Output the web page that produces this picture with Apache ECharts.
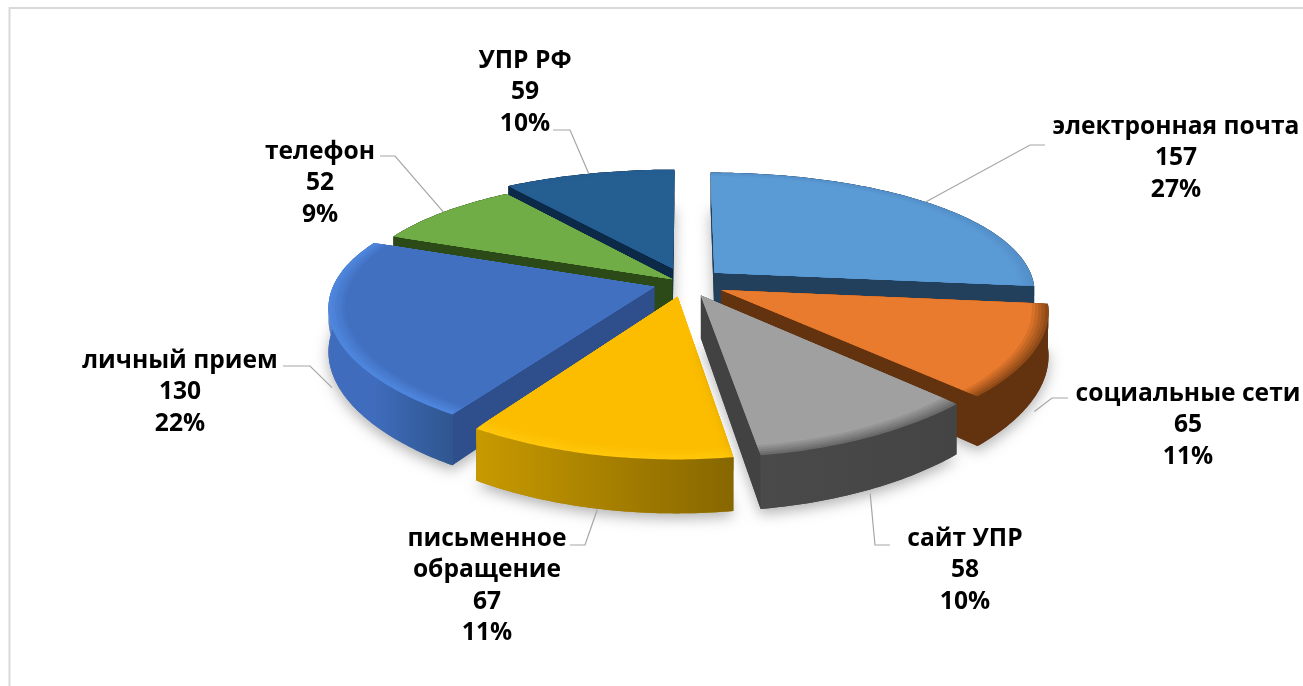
<!DOCTYPE html>
<html><head><meta charset="utf-8">
<style>html,body{margin:0;padding:0;background:#fff}#c{width:1303px;height:686px}</style>
<script src="https://cdn.jsdelivr.net/npm/echarts@6/dist/echarts.min.js"></script>
</head><body><div id="c"></div>
<script>
const categories = ['электронная почта','социальные сети','сайт УПР','письменное обращение','личный прием','телефон','УПР РФ'];
const values = [157,65,58,67,130,52,59];
const percents = ['27%','11%','10%','11%','22%','9%','10%'];
const nameLines = [['электронная почта'],['социальные сети'],['сайт УПР'],['письменное','обращение'],['личный прием'],['телефон'],['УПР РФ']];

// appearance and layout (not data)
const topColors  = ['#5B9BD5','#E97B2E','#A0A0A0','#FCBD00','#4270C0','#70AD47','#255E91'];
const rimColors  = ['#5490CA','#8F4A18','#6A6A6A','#FFC60A','#4E86DE','#70AD47','#255E91'];
const cutColors  = ['#223F5B','#63320F','#424242','#8A6900','#2F4F8C','#2C4A18','#0C2A47'];
const wallLeft   = ['#223F5B','#63320F','#4A4A4A','#C89A00','#3F6CBC','#2C4A18','#0C2A47'];
const wallRight  = ['#223F5B','#63320F','#444444','#876700','#2F568F','#2C4A18','#0C2A47'];
const bevelColor = ['#5490CA','#7A3F14','#585858','#E8B000','#4578CC','#70AD47','#255E91'];
const explode    = [0.125,0.125,0.11,0.11,0.10,0.05,0.125];
const drawOrder  = [6,5,0,4,1,3,2];
const leaderDrop = [0,14,4,1,15,0,0];
const labelCenters = [[1176,126.5],[1188,393.5],[965,538.5],[487,538.5],[180,360.5],[320,151.5],[525,60.5]];
const labelElbows  = [[[1045,145],[1030,145]],[[1068,398],[1052,398]],[[890,545],[875,545]],[[570,545],[585,545]],[[283,366],[310,366]],[[380,156],[395,156]],[[553,130],[570,130]]];
const CX=685, CY=283, RX=320, RY=124, KX=0.15, KY=0.2, H=42, BEVEL=10, LINE=31.5, INSET=0.05;
const FONT='bold 24.6px "Open Sans"';

const total = values.reduce((a,b)=>a+b,0);
const project=(u,v)=>{const sx=1/(1-KX*v),sy=1/(1-KY*v);return [CX+RX*u*sx,CY+RY*v*sy,sy];};
const hexMix=(a,b,t)=>{const p=s=>[1,3,5].map(i=>parseInt(s.substr(i,2),16));const A=p(a),B=p(b);return 'rgb('+A.map((x,i)=>Math.round(x+(B[i]-x)*t)).join(',')+')';};

function renderItem(params,api){
  const i=params.dataIndex;
  let before=0; for(let k=0;k<i;k++) before+=values[k];
  const val=api.value(0);
  const a0=before/total*2*Math.PI, a1=(before+val)/total*2*Math.PI, am=(a0+a1)/2;
  const ox=explode[i]*Math.sin(am), oy=-explode[i]*Math.cos(am);
  const rim=(a,off,r)=>{const q=r===undefined?1:r;const p=project(ox+q*Math.sin(a),oy-q*Math.cos(a));return [p[0],p[1]+(off||0)*p[2]];};
  const apex=(off)=>{const p=project(ox,oy);return [p[0],p[1]+(off||0)*p[2]];};
  const N=Math.max(8,Math.ceil((a1-a0)/0.015));
  const arc=(off,r)=>{const o=[];for(let k=0;k<=N;k++)o.push(rim(a0+(a1-a0)*k/N,off,r));return o;};
  const z=drawOrder.indexOf(i)*10;
  const kids=[];
  const poly=(pts,fill,zz,extra)=>kids.push({type:'polygon',z2:z+zz,shape:{points:pts},style:Object.assign({fill:fill},extra||{})});
  const xa=rim(a0)[0], xb=rim(a1)[0];
  const wallFill={type:'linear',x:Math.min(xa,xb),y:0,x2:Math.max(xa,xb),y2:0,global:true,colorStops:[{offset:0,color:wallLeft[i]},{offset:1,color:wallRight[i]}]};
  const mid=hexMix(wallLeft[i],wallRight[i],0.5);
  // soft shadow under the slice
  poly(arc(H).concat([apex(H)]),mid,0,{shadowBlur:14,shadowColor:'rgba(0,0,0,0.3)',shadowOffsetY:5});
  // cut faces
  poly([apex(0),rim(a0,0),rim(a0,H),apex(H)],cutColors[i],1);
  poly([apex(0),rim(a1,0),rim(a1,H),apex(H)],cutColors[i],1);
  // outer wall
  poly(arc(0).concat(arc(H).reverse()),wallFill,2);
  // bevel strips on the wall, just under the rim
  const S=5;
  for(let s=0;s<S;s++){
    const o0=BEVEL*s/S,o1=BEVEL*(s+1)/S+0.5;
    const wc=wallLeft[i]===wallRight[i]?mid:hexMix(wallLeft[i],wallRight[i],0.35);
    poly(arc(o0).concat(arc(o1).reverse()),hexMix(bevelColor[i],wc,(s+0.5)/S),3);
  }
  // top face, shading towards the rim
  poly([apex(0)].concat(arc(0)),rimColors[i],4);
  const T=5;
  for(let t=1;t<=T;t++){
    poly([apex(0)].concat(arc(0,1-INSET*t/T)),hexMix(rimColors[i],topColors[i],t/T),4+t*0.2);
  }
  return {type:'group',children:kids};
}

function renderLabel(params,api){
  const i=params.dataIndex;
  let before=0; for(let k=0;k<i;k++) before+=values[k];
  const am=(before+api.value(0)/2)/total*2*Math.PI;
  const ox=explode[i]*Math.sin(am), oy=-explode[i]*Math.cos(am);
  const p=project(ox+Math.sin(am),oy-Math.cos(am));
  const end=[p[0],p[1]+(Math.cos(am)<0?H*p[2]:0)+leaderDrop[i]];
  const kids=[{type:'polyline',z2:200,shape:{points:labelElbows[i].concat([end])},style:{stroke:'#A6A6A6',lineWidth:1.2,fill:null}}];
  const lines=nameLines[i].concat([String(api.value(0)),percents[i]]);
  lines.forEach((t,k)=>kids.push({type:'text',z2:210,style:{text:t,x:labelCenters[i][0],y:labelCenters[i][1]+k*LINE,fill:'#000',font:FONT,align:'center',verticalAlign:'middle'}}));
  return {type:'group',children:kids};
}

const chart=echarts.init(document.getElementById('c'),null,{renderer:'canvas'});
chart.setOption({
  animation:false,
  backgroundColor:'#fff',
  graphic:[{type:'rect',silent:true,shape:{x:9.5,y:8,width:1320,height:700},style:{fill:'#fff',stroke:'#D9D9D9',lineWidth:2}, z:-1}],
  series:[
    {type:'custom',coordinateSystem:'none',name:'slices',data:values.map(v=>[v]),encode:{value:0},renderItem:renderItem,silent:true,clip:false,z:2},
    {type:'custom',coordinateSystem:'none',name:'labels',data:values.map(v=>[v]),encode:{value:0},renderItem:renderLabel,silent:true,clip:false,z:3}
  ]
});
</script></body></html>
